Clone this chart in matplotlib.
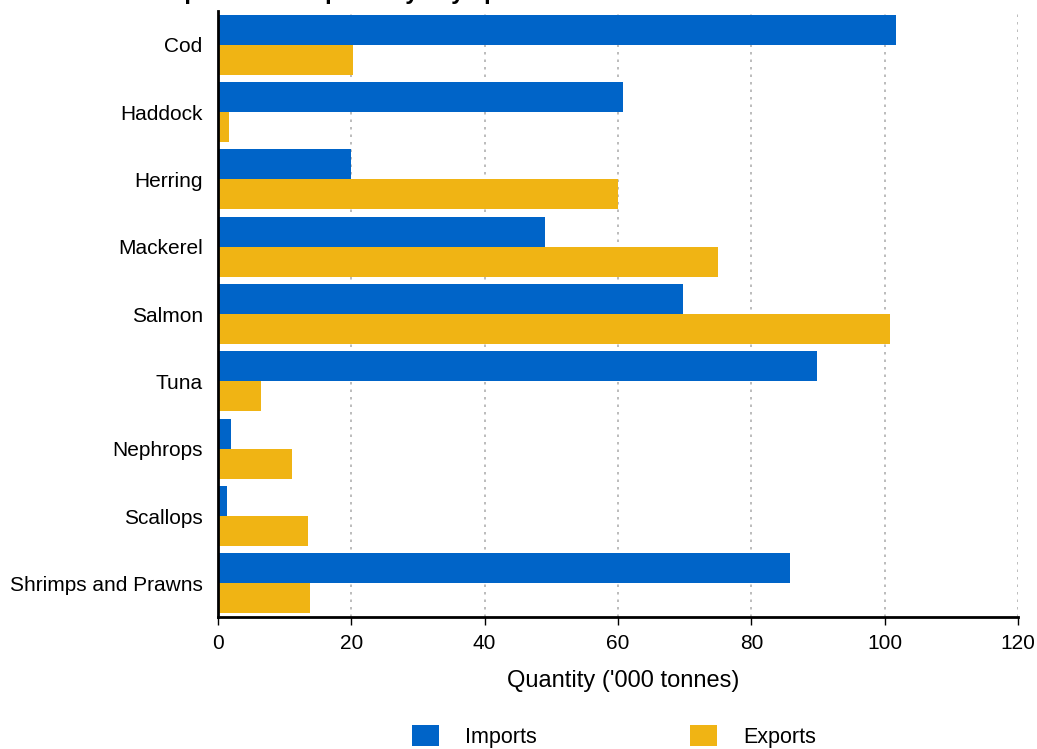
import matplotlib
matplotlib.use("Agg")
import matplotlib.pyplot as plt
from matplotlib.patches import Patch
import numpy as np

plt.rcParams['font.family'] = ['Liberation Sans', 'DejaVu Sans']

species = ["Cod", "Haddock", "Herring", "Mackerel", "Salmon", "Tuna",
           "Nephrops", "Scallops", "Shrimps and Prawns"]
imports = [101.7, 60.8, 20.0, 49.0, 69.8, 89.8, 2.0, 1.4, 85.8]
exports = [20.2, 1.7, 60.0, 75.0, 100.8, 6.5, 11.1, 13.5, 13.8]
xticks = [0, 20, 40, 60, 80, 100, 120]

c_imp = "#0064C8"
c_exp = "#F0B414"

fig = plt.figure(figsize=(10.37, 7.49), dpi=100)
ax = fig.add_axes([0.2102, 0.1762, 0.9817 - 0.2102, 0.9853 - 0.1762])

y = np.arange(len(species))
h = 0.445
ax.barh(y - h / 2, imports, height=h, color=c_imp, zorder=3)
ax.barh(y + h / 2, exports, height=h, color=c_exp, zorder=3)

ax.set_ylim(len(species) - 0.5, -0.5)
ax.set_xlim(0, 120)
ax.set_yticks(y)
ax.set_yticklabels(species, fontsize=15)
ax.set_xticks(xticks)
ax.set_xticklabels([str(t) for t in xticks], fontsize=15)
ax.tick_params(axis='y', length=0, pad=11)
ax.tick_params(axis='x', length=6, width=1, pad=6)

ax.grid(axis='x', linestyle=(0, (1.5, 3)), color='#b0b0b0', linewidth=1.2, zorder=0)
for s in ['top', 'right']:
    ax.spines[s].set_visible(False)
ax.spines['bottom'].set_linewidth(2)
ax.spines['left'].set_linewidth(2)
ax.spines['bottom'].set_zorder(5)
ax.spines['left'].set_zorder(5)

ax.set_xlabel("Quantity ('000 tonnes)", fontsize=17)
ax.xaxis.set_label_coords(0.507, -0.088)

fig.text(0.0, 1.002, "Chart 4.4: UK imports and exports by key species 2019",
         fontsize=17, fontweight='bold', ha='left', va='baseline')

handles = [Patch(facecolor=c_imp, edgecolor='none', label='Imports'),
           Patch(facecolor=c_exp, edgecolor='none', label='Exports')]
fig.legend(handles=handles, loc='lower center', bbox_to_anchor=(0.592, -0.024),
           ncol=2, frameon=False, fontsize=15.5, handlelength=1.25,
           handleheight=1.1, handletextpad=1.2, columnspacing=7.15)

fig.savefig("out.png", dpi=100)
